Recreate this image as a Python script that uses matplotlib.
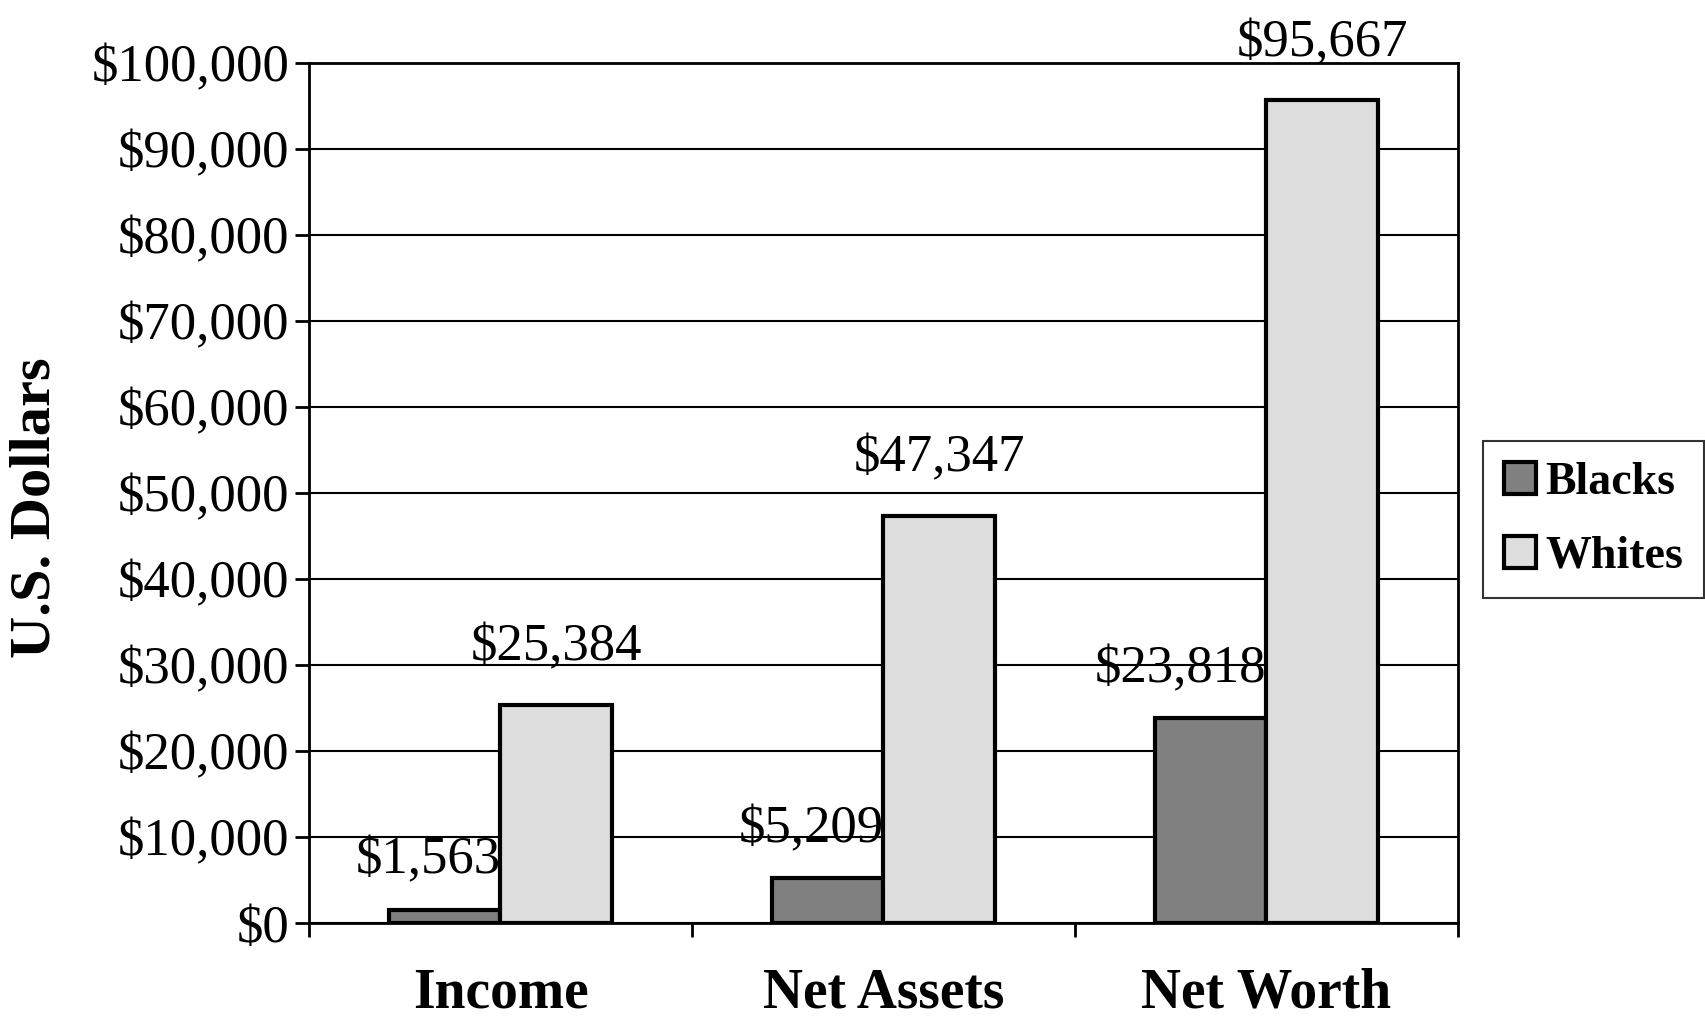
import matplotlib.pyplot as plt
import numpy as np

categories = ["Income", "Net Assets", "Net Worth"]
blacks = [1563, 5209, 23818]
whites = [25384, 47347, 95667]
series_names = ["Blacks", "Whites"]
y_ticks = list(range(0, 100001, 10000))

plt.rcParams["font.family"] = ["Liberation Serif", "DejaVu Serif"]

fig = plt.figure(figsize=(17.05, 10.17), dpi=100)
ax = fig.add_axes([0.1812, 0.0924, 0.6739, 0.8457])

x = np.arange(len(categories))
w = 0.29
ax.bar(x - w / 2, blacks, w, color="#808080", edgecolor="black",
       linewidth=3, label=series_names[0], zorder=3)
ax.bar(x + w / 2, whites, w, color="#dddddd", edgecolor="black",
       linewidth=3, label=series_names[1], zorder=3)

# value labels: Blacks right-aligned to their bar, Whites centred
for xi, v in zip(x, blacks):
    ax.annotate(f"${v:,}", (xi, v), xytext=(0, 18), textcoords="offset points",
                ha="right", va="bottom", fontsize=38, zorder=4)
for xi, v in zip(x, whites):
    ax.annotate(f"${v:,}", (xi + w / 2, v), xytext=(0, 24), textcoords="offset points",
                ha="center", va="bottom", fontsize=38, zorder=4)

ax.set_xlim(-0.5, 2.5)
ax.set_ylim(0, 100000)
ax.set_yticks(y_ticks)
ax.set_yticklabels([f"${t:,}" for t in y_ticks], fontsize=38)
ax.yaxis.grid(True, color="black", linewidth=1.5, zorder=0)
ax.set_axisbelow(True)

ax.set_xticks([-0.5, 0.5, 1.5, 2.5])
ax.set_xticklabels([])
ax.set_xticks(x, minor=True)
ax.set_xticklabels(categories, minor=True, fontsize=40, fontweight="bold")
ax.tick_params(axis="x", which="minor", length=0, pad=32)
ax.tick_params(axis="both", which="major", direction="out", length=10, width=2)
ax.tick_params(axis="y", pad=4)

for s in ax.spines.values():
    s.set_linewidth(2)
    s.set_color("black")

ax.set_ylabel("U.S. Dollars", fontsize=42, fontweight="bold")
ax.yaxis.set_label_coords(-0.215, 0.483)

leg = ax.legend(loc="center left", bbox_to_anchor=(1.022, 0.469),
                prop={"weight": "bold", "size": 33}, frameon=True, fancybox=False,
                edgecolor="black", handlelength=0.7, handleheight=0.7,
                handletextpad=0.2, borderpad=0.45, labelspacing=0.7,
                borderaxespad=0)
leg.get_frame().set_linewidth(1.5)

fig.savefig("out.png", dpi=100)
